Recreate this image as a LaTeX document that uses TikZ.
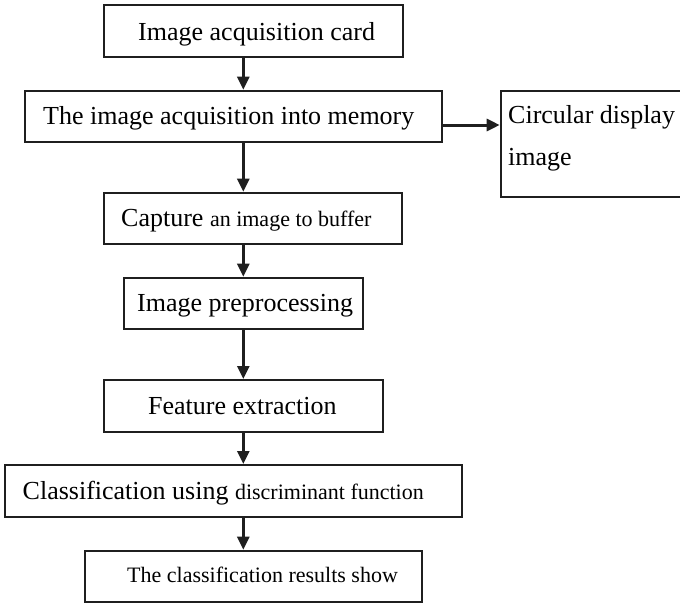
\documentclass[tikz,border=0pt]{standalone}
\usepackage{fontspec}
\setmainfont{Liberation Serif}
\usetikzlibrary{arrows.meta}
\begin{document}
\begin{tikzpicture}[x=1pt,y=-1pt,
  box/.style={draw=black!88, line width=2pt, rectangle, inner sep=0pt},
  txt/.style={anchor=base west, inner sep=0pt, font=\fontsize{26}{30}\selectfont},
  flow/.style={draw=black!88, line width=2.5pt, -{Triangle[length=13pt,width=12pt]}}]
\newcommand{\smalltext}{\fontsize{22}{26}\selectfont}
\useasboundingbox (0,0) rectangle (680,603);

% boxes of the processing chain
\node[box, minimum width=298.7pt, minimum height=51.7pt] (b1) at (253.4,31.15) {};
\node[box, minimum width=417pt,   minimum height=51.6pt] (b2) at (233.5,116.5) {};
\node[box, minimum width=189.3pt, minimum height=106.3pt] (b3) at (595.35,143.85) {};
\node[box, minimum width=297.7pt, minimum height=51.6pt] (b4) at (253.15,218.5) {};
\node[box, minimum width=238.4pt, minimum height=51.6pt] (b5) at (243.5,303.5) {};
\node[box, minimum width=278.2pt, minimum height=51.7pt] (b6) at (243.4,405.85) {};
\node[box, minimum width=457pt,   minimum height=51.7pt] (b7) at (233.5,490.85) {};
\node[box, minimum width=336.5pt, minimum height=51.3pt] (b8) at (253.25,576.35) {};

% box labels
\node[txt] (t1) at (138,40) {Image acquisition card};
\node[txt] (t2) at (43,124) {The image acquisition into memory};
\node[txt] (t3a) at (508,123) {Circular display};
\node[txt] (t3b) at (508,165) {image};
\node[txt] (t4) at (121,226.7) {Capture {\smalltext an image to buffer}};
\node[txt] (t5) at (137,311.5) {Image preprocessing};
\node[txt] (t6) at (148,414.5) {Feature extraction};
\node[txt] (t7) at (22.5,499.5) {Classification using {\smalltext discriminant function}};
\node[txt] (t8) at (127,582) {\smalltext The classification results show};

% connectors
\coordinate (axis) at (243.3,0);
\coordinate (side) at (0,125);
\draw[flow] (b1.south -| axis) -- (b2.north -| axis);
\draw[flow, line width=3pt] (b2.east |- side) -- (b3.west |- side);
\draw[flow] (b2.south -| axis) -- (b4.north -| axis);
\draw[flow] (b4.south -| axis) -- (b5.north -| axis);
\draw[flow] (b5.south -| axis) -- (b6.north -| axis);
\draw[flow] (b6.south -| axis) -- (b7.north -| axis);
\draw[flow] (b7.south -| axis) -- (b8.north -| axis);
\end{tikzpicture}
\end{document}
